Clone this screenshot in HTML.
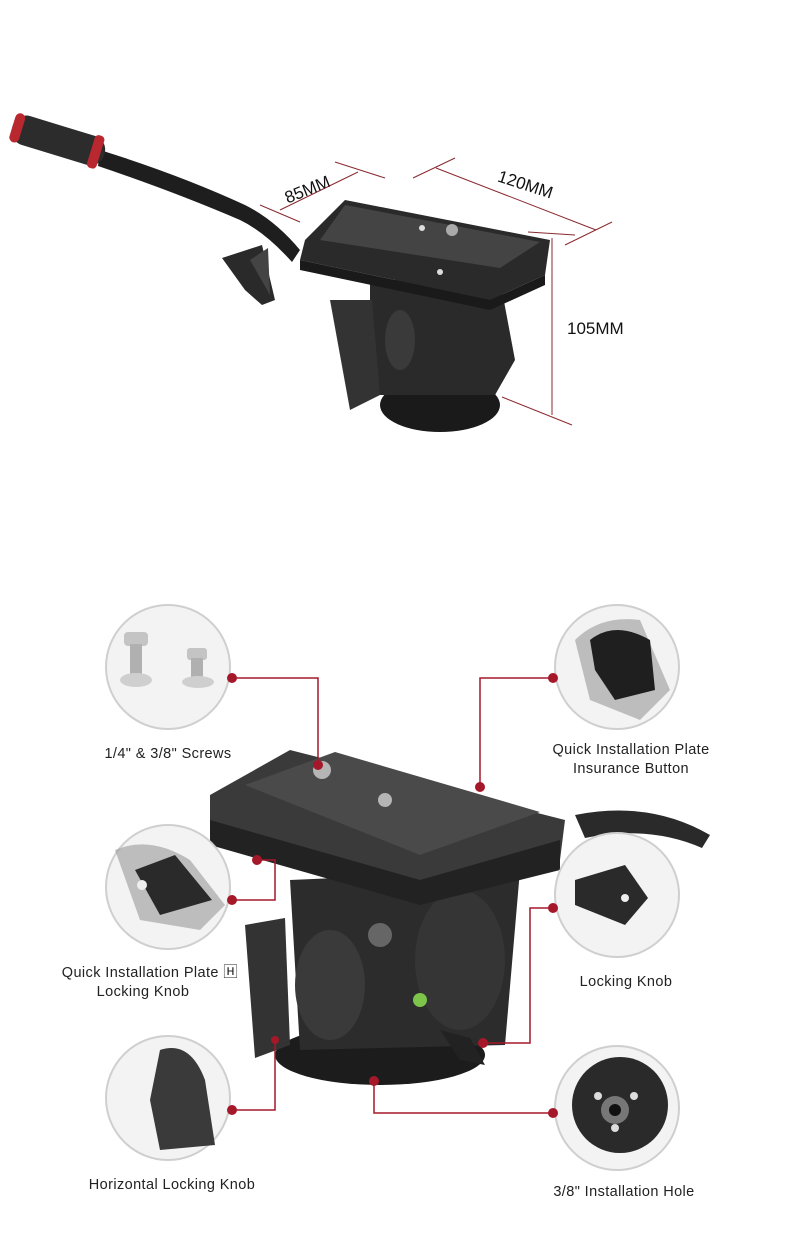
<!DOCTYPE html>
<html><head><meta charset="utf-8"><style>
html,body{margin:0;padding:0;background:#fff;}
svg{display:block;}
text{font-family:"Liberation Sans",sans-serif;}
</style></head><body>
<svg width="790" height="1257" viewBox="0 0 790 1257" xmlns="http://www.w3.org/2000/svg">
<rect width="790" height="1257" fill="#fff"/>
<!-- TOP PRODUCT -->
<g>
 <path d="M100 150 Q180 175 245 205 Q275 220 300 250 L292 262 Q265 232 240 220 Q175 192 98 166 Z" fill="#1e1e1e"/>
 <g transform="rotate(17 60 142)">
  <rect x="10" y="126" width="96" height="30" rx="14" fill="#2c2c2c"/>
  <rect x="10" y="126" width="10" height="30" rx="5" fill="#b8282e"/>
  <rect x="92" y="124" width="10" height="34" rx="4" fill="#b8282e"/>
 </g>
 <path d="M222 258 L262 245 L275 300 L262 305 L245 290 Z" fill="#2a2a2a"/>
 <path d="M250 260 L268 248 L270 295 Z" fill="#444"/>
 <!-- base -->
 <ellipse cx="440" cy="405" rx="60" ry="27" fill="#1a1a1a"/>
 <path d="M370 280 L500 280 L515 360 L495 395 L375 395 L370 360 Z" fill="#2a2a2a"/>
 <path d="M330 300 L372 300 L380 395 L350 410 Z" fill="#333"/>
 <ellipse cx="400" cy="340" rx="15" ry="30" fill="#3a3a3a"/>
 <!-- plate -->
 <polygon points="305,240 345,200 550,240 545,275 490,300 300,260" fill="#2a2a2a"/>
 <polygon points="345,205 540,242 500,268 320,240" fill="#444"/>
 <polygon points="300,260 490,300 545,275 545,285 490,310 300,270" fill="#1a1a1a"/>
 <circle cx="452" cy="230" r="6" fill="#aaa"/>
 <circle cx="422" cy="228" r="3" fill="#ddd"/>
 <circle cx="440" cy="272" r="3" fill="#ddd"/>
</g>
<!-- dimension lines -->
<g stroke="#8a2a30" stroke-width="1" fill="none">
 <line x1="260" y1="205" x2="300" y2="222"/>
 <line x1="335" y1="162" x2="385" y2="178"/>
 <line x1="280" y1="210" x2="358" y2="172"/>
 <line x1="413" y1="178" x2="455" y2="158"/>
 <line x1="565" y1="245" x2="612" y2="222"/>
 <line x1="436" y1="168" x2="596" y2="230"/>
 <line x1="528" y1="232" x2="575" y2="235"/>
 <line x1="502" y1="397" x2="572" y2="425"/>
 <line x1="552" y1="238" x2="552" y2="415"/>
</g>
<text x="283" y="196" font-size="17" fill="#111" transform="rotate(-22 305 188)">85MM</text>
<text x="497" y="191" font-size="17" fill="#111" transform="rotate(18 528 185)">120MM</text>
<text x="567" y="334" font-size="17" fill="#111">105MM</text>

<!-- BOTTOM PRODUCT -->
<g>
 <path d="M575 815 Q650 800 710 835 L702 848 Q650 825 585 838 Z" fill="#2a2a2a"/>
 <ellipse cx="380" cy="1055" rx="105" ry="30" fill="#1c1c1c"/>
 <path d="M290 880 L520 870 L505 1045 L300 1050 Z" fill="#2c2c2c"/>
 <ellipse cx="330" cy="985" rx="35" ry="55" fill="#3a3a3a"/>
 <ellipse cx="460" cy="960" rx="45" ry="70" fill="#353535"/>
 <polygon points="245,925 285,918 290,1045 255,1058" fill="#333"/>
 <polygon points="210,795 290,750 565,820 560,860 420,895 210,830" fill="#3a3a3a"/>
 <polygon points="245,785 335,752 540,812 420,855" fill="#4a4a4a"/>
 <polygon points="210,820 420,880 560,840 560,870 420,905 210,845" fill="#222"/>
 <circle cx="322" cy="770" r="9" fill="#b5b5b5"/>
 <circle cx="385" cy="800" r="7" fill="#b5b5b5"/>
 <circle cx="420" cy="1000" r="7" fill="#7cc44a"/>
 <polygon points="440,1030 470,1038 485,1065 460,1060" fill="#222"/>
 <circle cx="380" cy="935" r="12" fill="#666"/>
</g>

<!-- circles -->
<g fill="#f3f3f3" stroke="#cfcfcf" stroke-width="2">
 <circle cx="168" cy="667" r="62"/>
 <circle cx="617" cy="667" r="62"/>
 <circle cx="168" cy="887" r="62"/>
 <circle cx="617" cy="895" r="62"/>
 <circle cx="168" cy="1098" r="62"/>
 <circle cx="617" cy="1108" r="62"/>
</g>
<!-- circle contents -->
<g>
 <rect x="124" y="632" width="24" height="14" rx="4" fill="#c4c4c4"/>
 <rect x="130" y="644" width="12" height="30" fill="#b0b0b0"/>
 <ellipse cx="136" cy="680" rx="16" ry="7" fill="#cfcfcf"/>
 <rect x="187" y="648" width="20" height="12" rx="3" fill="#c4c4c4"/>
 <rect x="191" y="658" width="12" height="20" fill="#b0b0b0"/>
 <ellipse cx="198" cy="682" rx="16" ry="6" fill="#cfcfcf"/>
 <path d="M575 640 Q600 615 640 620 L670 690 L640 720 L590 700 Z" fill="#9a9a9a" opacity="0.6"/>
 <path d="M590 640 Q615 620 650 640 L655 690 L615 700 L595 670 Z" fill="#1f1f1f"/>
 <path d="M115 850 Q150 835 190 860 L225 905 L200 930 L140 920 Z" fill="#999" opacity="0.6"/>
 <polygon points="135,870 175,855 212,900 160,915" fill="#2a2a2a"/>
 <circle cx="142" cy="885" r="5" fill="#eee"/>
 <path d="M575 880 L625 865 L648 898 L625 925 L575 905 Z" fill="#2a2a2a"/>
 <circle cx="625" cy="898" r="4" fill="#eee"/>
 <path d="M160 1050 Q190 1040 205 1080 L215 1145 L160 1150 L150 1100 Z" fill="#3a3a3a"/>
 <circle cx="620" cy="1105" r="48" fill="#2a2a2a"/>
 <circle cx="615" cy="1110" r="14" fill="#777"/>
 <circle cx="615" cy="1110" r="6" fill="#111"/>
 <circle cx="598" cy="1096" r="4" fill="#ddd"/><circle cx="634" cy="1096" r="4" fill="#ddd"/><circle cx="615" cy="1128" r="4" fill="#ddd"/>
</g>

<!-- connectors -->
<g stroke="#a5182a" stroke-width="1.5" fill="none">
 <polyline points="232,678 318,678 318,765"/>
 <polyline points="553,678 480,678 480,787"/>
 <polyline points="232,900 275,900 275,860 257,860"/>
 <polyline points="553,908 530,908 530,1043 483,1043"/>
 <polyline points="232,1110 275,1110 275,1040"/>
 <polyline points="374,1081 374,1113 553,1113"/>
</g>
<g fill="#a5182a">
 <circle cx="232" cy="678" r="5"/><circle cx="318" cy="765" r="5"/>
 <circle cx="553" cy="678" r="5"/><circle cx="480" cy="787" r="5"/>
 <circle cx="232" cy="900" r="5"/><circle cx="257" cy="860" r="5"/>
 <circle cx="553" cy="908" r="5"/><circle cx="483" cy="1043" r="5"/>
 <circle cx="232" cy="1110" r="5"/><circle cx="275" cy="1040" r="4"/>
 <circle cx="374" cy="1081" r="5"/><circle cx="553" cy="1113" r="5"/>
</g>

<!-- labels -->
<g font-size="14.5" fill="#222" text-anchor="middle" letter-spacing="0.4">
 <text x="168" y="758">1/4" &amp; 3/8" Screws</text>
 <text x="631" y="754">Quick Installation Plate</text>
 <text x="631" y="773">Insurance Button</text>
 <text x="150" y="977">Quick Installation Plate 🄷</text>
 <text x="143" y="996">Locking Knob</text>
 <text x="626" y="986">Locking Knob</text>
 <text x="172" y="1189">Horizontal Locking Knob</text>
 <text x="624" y="1196">3/8" Installation Hole</text>
</g>
</svg>
</body></html>
